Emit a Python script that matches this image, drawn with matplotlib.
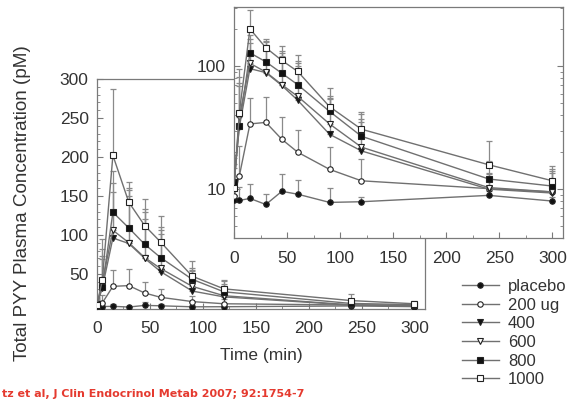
import numpy as np
import matplotlib
matplotlib.use("Agg")
import matplotlib.pyplot as plt
from matplotlib.lines import Line2D
from matplotlib.ticker import MultipleLocator, LogLocator, NullFormatter, FixedLocator

plt.rcParams['font.family'] = ['Liberation Sans', 'DejaVu Sans']

# time points (min)
t = [0, 5, 15, 30, 45, 60, 90, 120, 240, 300]

# mean total PYY (pM) per dose group
placebo = [8.1, 8.1, 8.4, 7.5, 9.6, 9.1, 7.8, 7.9, 8.9, 8.0]
d200 = [8.8, 12.8, 34, 35, 25.5, 20, 14.5, 11.7, 10.1, 9.5]
d400 = [11.5, 32, 96, 89, 70, 53, 28, 20.5, 10.0, 9.3]
d600 = [10.3, 39, 106, 90, 71, 57, 34, 22, 10.3, 9.5]
d800 = [11.5, 33, 129, 109, 88, 71, 43, 27, 12.1, 10.6]
d1000 = [10.3, 42, 202, 142, 112, 91, 47, 30.8, 15.8, 11.7]

# upper error bars
placebo_err = [0.9, 2.4, 2.6, 1.6, 3.8, 2.7, 2.5, 0.8, 0.8, 0.6]
d200_err = [1.5, 9.7, 21.6, 21.6, 13.5, 10.2, 7.5, 6.0, 1.5, 1.0]
d400_err = [3.5, 41, 59, 61, 51, 48, 26, 14.5, 3.2, 4.2]
d600_err = [5.7, 43, 60, 67, 58, 49, 21, 15, 3.3, 4.5]
d800_err = [6.5, 36, 53, 51, 45, 39, 14, 13.7, 4.9, 3.9]
d1000_err = [8.7, 53, 85, 26, 34, 33, 20, 12, 8.9, 3.8]

labels = ['placebo', '200 ug', '400', '600', '800', '1000']
series = [placebo, d200, d400, d600, d800, d1000]
errors = [placebo_err, d200_err, d400_err, d600_err, d800_err, d1000_err]
markers = ['o', 'o', 'v', 'v', 's', 's']
fills = ['#111111', 'white', '#111111', 'white', '#111111', 'white']

line_c = '#707070'
edge_c = '#222222'
spine_c = '#7a7a7a'
text_c = '#333333'
ms = 3.9


def draw(ax):
    for y, e, m, fc in zip(series, errors, markers, fills):
        y = np.array(y)
        e = np.array(e)
        ax.errorbar(t, y, yerr=[np.zeros_like(e), e], fmt='none', ecolor='#8a8a8a',
                    elinewidth=0.9, capsize=2.5, capthick=0.9, zorder=2)
        ax.plot(t, y, color=line_c, lw=1.0, marker=m, ms=ms, mfc=fc, mec=edge_c,
                mew=0.8, zorder=3)
    for s in ax.spines.values():
        s.set_color(spine_c)
        s.set_linewidth(0.9)
    ax.tick_params(which='both', direction='in', colors=spine_c, labelcolor=text_c,
                   labelsize=12.5)
    ax.tick_params(axis='x', which='both', pad=9)
    ax.tick_params(axis='y', which='both', pad=6)
    ax.tick_params(which='major', length=4)
    ax.tick_params(which='minor', length=2)


fig = plt.figure(figsize=(5.81, 3.99), dpi=100)

# main (linear) axes
ax = fig.add_axes([0.167, 0.2256, 0.5645, 0.5765])
draw(ax)
ax.set_xlim(0, 310)
ax.set_ylim(5, 300)
ax.xaxis.set_major_locator(FixedLocator([0, 50, 100, 150, 200, 250, 300]))
ax.xaxis.set_minor_locator(MultipleLocator(25))
ax.yaxis.set_major_locator(FixedLocator([50, 100, 150, 200, 250, 300]))
ax.yaxis.set_minor_locator(MultipleLocator(10))
ax.set_xlabel('Time (min)', fontsize=12.5, color=text_c, labelpad=8)
fig.text(23 / 581, 1 - 203 / 399, 'Total PYY Plasma Concentration (pM)', rotation=90,
         ha='center', va='center', fontsize=13.6, color=text_c)

# inset (log) axes
ins = fig.add_axes([0.4028, 0.4035, 0.5663, 0.579])
ins.set_facecolor('white')
draw(ins)
ins.set_yscale('log')
ins.set_xlim(0, 310)
ins.set_ylim(4, 305)
ins.xaxis.set_major_locator(FixedLocator([0, 50, 100, 150, 200, 250, 300]))
ins.xaxis.set_minor_locator(MultipleLocator(25))
ins.yaxis.set_major_locator(FixedLocator([10, 100]))
ins.yaxis.set_minor_locator(LogLocator(base=10, subs=np.arange(2, 10)))
ins.yaxis.set_minor_formatter(NullFormatter())
ins.set_yticklabels(['10', '100'])
ins.tick_params(axis='y', which='both', right=True)

handles = [Line2D([], [], color=line_c, lw=1.0, marker=m, ms=ms, mfc=fc, mec=edge_c, mew=0.8)
           for m, fc in zip(markers, fills)]
fig.legend(handles, labels, loc='upper left', bbox_to_anchor=(0.781, 0.322),
           frameon=False, borderpad=0, handlelength=2.2, handletextpad=0.55,
           labelspacing=0.22, fontsize=12, labelcolor=text_c)

fig.text(0.003, 0.0, 'tz et al, J Clin Endocrinol Metab 2007; 92:1754-7',
         color='#e53a2f', fontsize=8.0, fontweight='bold', family='DejaVu Sans',
         ha='left', va='bottom')

fig.savefig('out.png', dpi=100)
